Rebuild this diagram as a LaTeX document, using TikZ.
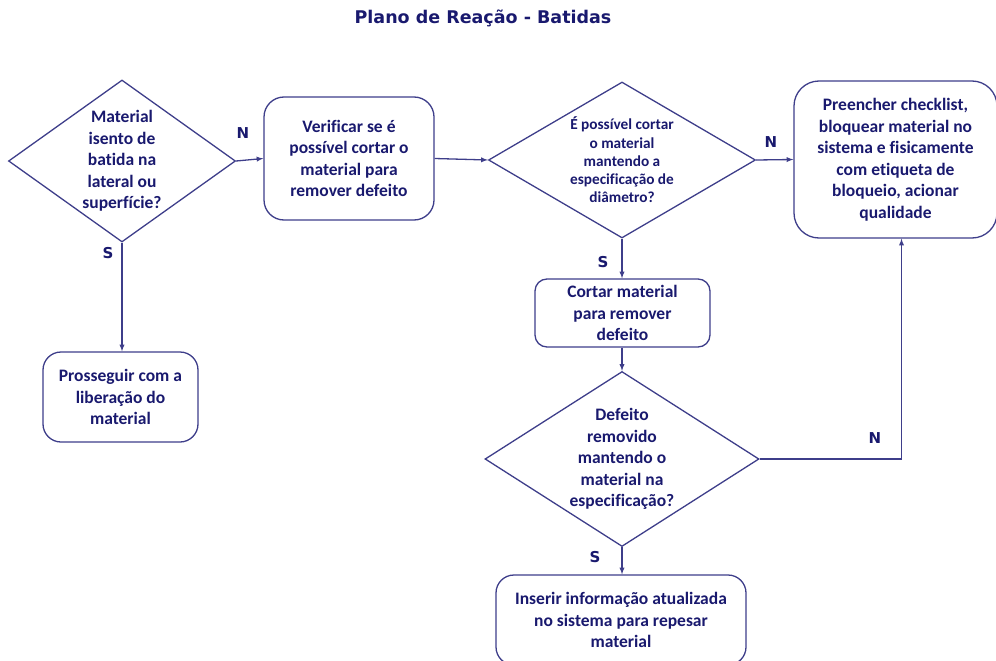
\documentclass[tikz,border=0pt]{standalone}
\usepackage{fontspec}
\setmainfont{Carlito}[Ligatures=NoCommon]
\newfontfamily\labelfont{DejaVu Sans}
\usetikzlibrary{arrows, shapes.geometric}
\definecolor{navy}{RGB}{25,25,110}
\definecolor{edge}{RGB}{62,62,138}
\tikzstyle{step-box}=[draw=edge, line width=1.3pt, rectangle, rounded corners=18pt, align=center, text=navy, inner sep=0pt, font=\bfseries\fontsize{17.5}{21.5}\selectfont]
\tikzstyle{decision}=[draw=edge, line width=1.3pt, diamond, inner sep=0pt]
\tikzstyle{decision-text}=[align=center, text=navy, inner sep=0pt, font=\bfseries\fontsize{17.5}{21.5}\selectfont]
\tikzstyle{answer}=[text=navy, inner sep=0pt, font=\labelfont\bfseries\fontsize{15}{15}\selectfont]
\tikzstyle{flow}=[draw=edge, line width=1.3pt, -latex]

\begin{document}
\begin{tikzpicture}[x=1pt, y=-1pt]
\useasboundingbox (0,0) rectangle (996,661);

\node[text=navy, font=\labelfont\bfseries\fontsize{17.5}{17.5}\selectfont] (title) at (483,18) {Plano de Reação - Batidas};

\node[decision, minimum width=227, minimum height=162, label={[decision-text]center:{Material\\isento de\\batida na\\lateral ou\\superfície?}}] (isento) at (122,161) {};
\node[step-box, minimum width=170, minimum height=123, rounded corners=20pt] (verificar) at (349,158.5) {Verificar se é\\possível cortar o\\material para\\remover defeito};
\node[decision, minimum width=267, minimum height=156, label={[decision-text, font=\bfseries\fontsize{15.3}{18.2}\selectfont]center:{É possível cortar\\o material\\mantendo a\\especificação de\\diâmetro?}}] (possivel) at (622,160) {};
\node[step-box, minimum width=203, minimum height=157, rounded corners=25pt] (preencher) at (895.5,159.5) {Preencher checklist,\\bloquear material no\\sistema e fisicamente\\com etiqueta de\\bloqueio, acionar\\qualidade};
\node[step-box, minimum width=175, minimum height=68, rounded corners=12pt] (cortar) at (622.5,313) {Cortar material\\para remover\\defeito};
\node[decision, minimum width=274, minimum height=175, label={[decision-text]center:{Defeito\\removido\\mantendo o\\material na\\especificação?}}] (removido) at (622,459) {};
\node[step-box, minimum width=250, minimum height=90] (inserir) at (621,620) {Inserir informação atualizada\\no sistema para repesar\\material};
\node[step-box, minimum width=155, minimum height=90] (prosseguir) at (120.5,397) {Prosseguir com a\\liberação do\\material};

\draw[flow] (isento.east) -- (verificar.west);
\draw[flow] (verificar.east) -- (possivel.west);
\draw[flow] (possivel.east) -- (preencher.west);
\draw[flow] (possivel.south) -- (possivel.south |- cortar.north);
\draw[flow] (removido.north |- cortar.south) -- (removido.north);
\draw[flow] (removido.east) -| ([xshift=6]preencher.south);
\draw[flow] (removido.south) -- (removido.south |- inserir.north);
\draw[flow] (isento.south) -- (isento.south |- prosseguir.north);

\node[answer] (n1) at (243,133) {N};
\node[answer] (s1) at (108,253) {S};
\node[answer] (n2) at (771,142) {N};
\node[answer] (s2) at (603,262) {S};
\node[answer] (n3) at (875,438) {N};
\node[answer] (s3) at (595,557) {S};
\end{tikzpicture}
\end{document}
